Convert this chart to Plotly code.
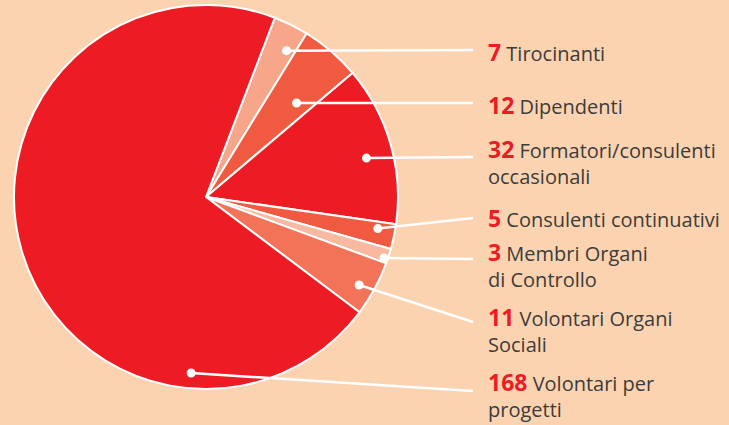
import math
import plotly.graph_objects as go

# ---- data ----
categories_line1 = ["Tirocinanti", "Dipendenti", "Formatori/consulenti",
                    "Consulenti continuativi", "Membri Organi",
                    "Volontari Organi", "Volontari per"]
categories_line2 = ["", "", "occasionali", "", "di Controllo", "Sociali", "progetti"]
values = [7, 12, 32, 5, 3, 11, 168]

# ---- styles ----
slice_colors = ["#F8A68A", "#F05A40", "#ED1C24", "#F05A40", "#F9B9A0", "#F37358", "#ED1C24"]
bg = "#FBD3B0"
W, H = 729, 425
rotation = 21
# pie geometry in pixels
pcx, pcy, prad = 206, 197, 192
# where the dot sits inside each slice (fraction of sweep, fraction of radius)
dot_sweep_frac = [0.74, 0.68, 0.55, 0.30, 0.70, 0.58, 0.228]
dot_rad_frac = [0.87, 0.68, 0.86, 0.91, 0.98, 0.92, 0.92]
# label layout (pixels)
line_end_x = 473
line_end_y = [50, 103, 157, 218, 259, 322, 391]
label_x = 486
label_center_y = [52, 105, 150, 218, 253, 318, 383]
line_gap = 26

fig = go.Figure()
fig.add_trace(go.Pie(
    values=values,
    labels=[(a + " " + b).strip() for a, b in zip(categories_line1, categories_line2)],
    sort=False, direction="clockwise", rotation=rotation,
    marker=dict(colors=slice_colors, line=dict(color="white", width=2)),
    textinfo="none", hoverinfo="label+value", showlegend=False,
    domain=dict(x=[(pcx - prad) / W, (pcx + prad) / W],
                y=[1 - (pcy + prad) / H, 1 - (pcy - prad) / H]),
))

total = sum(values)
shapes = []
annotations = []
start = rotation
font = dict(family="Open Sans", size=20, color="#3C3C3B")
for i, v in enumerate(values):
    sweep = v / total * 360
    ang = math.radians(start + dot_sweep_frac[i] * sweep)
    r = dot_rad_frac[i] * prad
    dx = pcx + r * math.sin(ang)
    dy = pcy - r * math.cos(ang)
    start += sweep
    shapes.append(dict(type="line", xref="paper", yref="paper",
                       x0=dx / W, y0=1 - dy / H, x1=line_end_x / W, y1=1 - line_end_y[i] / H,
                       line=dict(color="white", width=2.5), layer="above"))
    shapes.append(dict(type="circle", xref="paper", yref="paper",
                       xsizemode="pixel", ysizemode="pixel",
                       xanchor=dx / W, yanchor=1 - dy / H,
                       x0=-4.5, x1=4.5, y0=-4.5, y1=4.5,
                       fillcolor="white", line=dict(width=0), layer="above"))
    txt = (f"<b><span style='color:#ED1C24;font-size:23px'>{v}</span></b> "
           f"{categories_line1[i]}")
    cy = label_center_y[i]
    if categories_line2[i]:
        txt += "<br>" + categories_line2[i]
        cy += line_gap / 2 - 2
    annotations.append(dict(xref="paper", yref="paper", x=label_x / W,
                            y=1 - cy / H,
                            xanchor="left", yanchor="middle", align="left",
                            text=txt, showarrow=False, font=font))

fig.update_layout(width=W, height=H, margin=dict(l=0, r=0, t=0, b=0),
                  paper_bgcolor=bg, plot_bgcolor=bg,
                  shapes=shapes, annotations=annotations, showlegend=False)
fig.write_html("out.html", config={"displayModeBar": False},
               post_script="document.body.style.margin='0';document.body.style.background='%s';" % bg)
